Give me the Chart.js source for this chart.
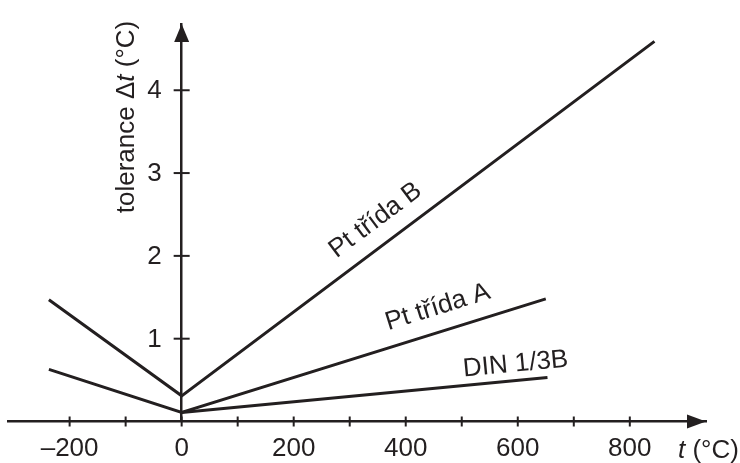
<!DOCTYPE html>
<html>
<head>
<meta charset="utf-8">
<script src="https://cdn.jsdelivr.net/npm/chart.js@4.4.1/dist/chart.umd.min.js"></script>
<style>
  body { margin: 0; background: #fff; }
</style>
</head>
<body>
<canvas id="graf" width="740" height="463"></canvas>
<script>
// hodnoty
const xTicks = [-200, -100, 0, 100, 200, 300, 400, 500, 600, 700, 800];
const yTicks = [1, 2, 3, 4];
const tempB = [-237, 0, 844];
const tolB = [1.47, 0.31, 4.59];
const tempA = [-237, 0, 650];
const tolA = [0.63, 0.11, 1.48];
const tempDin = [0, 653];
const tolDin = [0.11, 0.53];
const lineNames = ['Pt třída B', 'Pt třída A', 'DIN 1/3B'];

const ink = '#231f20';
const font = "'Liberation Sans', Arial, sans-serif";
Chart.defaults.font.family = font;
Chart.defaults.font.size = 26;
Chart.defaults.color = ink;

function body(xs, ys) {
    return xs.map((x, i) => ({ x: x, y: ys[i] }));
}

function serie(xs, ys) {
    return {
        data: body(xs, ys),
        borderColor: ink,
        borderWidth: 3,
        borderJoinStyle: 'miter',
        pointRadius: 0,
        tension: 0
    };
}

// kde stoji popisky car (t na care, odsazeni v px)
const popisky = [
    { t: 372, off: 17 },
    { t: 470, off: 17 },
    { t: 599, off: 9 }
];

const osy = {
    id: 'osy',
    afterDraw(chart) {
        const ctx = chart.ctx;
        const sx = chart.scales.x;
        const sy = chart.scales.y;
        const x0 = sx.getPixelForValue(0);
        const y0 = sy.getPixelForValue(0);
        const area = chart.chartArea;
        ctx.save();
        ctx.strokeStyle = ink;
        ctx.fillStyle = ink;
        ctx.lineWidth = 2;

        // carky na osach
        sx.ticks.forEach(tk => {
            const px = sx.getPixelForValue(tk.value);
            ctx.beginPath();
            ctx.moveTo(px, y0 - 5);
            ctx.lineTo(px, y0 + 5);
            ctx.stroke();
        });
        const normal = '26px ' + font;
        const italic = 'italic 26px ' + font;
        ctx.font = normal;
        ctx.textAlign = 'right';
        ctx.textBaseline = 'middle';
        sy.ticks.forEach(tk => {
            const py = sy.getPixelForValue(tk.value);
            ctx.beginPath();
            ctx.moveTo(x0 - 8, py);
            ctx.lineTo(x0 + 8, py);
            ctx.stroke();
            ctx.fillText(String(tk.value), x0 - 20, py + 1);
        });

        // sipky
        ctx.beginPath();
        ctx.moveTo(area.right, y0);
        ctx.lineTo(area.right - 19, y0 - 7);
        ctx.lineTo(area.right - 19, y0 + 7);
        ctx.closePath();
        ctx.fill();
        ctx.beginPath();
        ctx.moveTo(x0, area.top);
        ctx.lineTo(x0 - 7.5, area.top + 18);
        ctx.lineTo(x0 + 7.5, area.top + 18);
        ctx.closePath();
        ctx.fill();

        // popis osy x
        ctx.textAlign = 'left';
        ctx.textBaseline = 'alphabetic';
        let cx = 678;
        [['t', italic], [' (°C)', normal]].forEach(([s, f]) => {
            ctx.font = f;
            ctx.fillText(s, cx, 458);
            cx += ctx.measureText(s).width;
        });

        // popis osy y
        const casti = [['tolerance ', normal], ['Δ', normal], ['t', italic], [' (°C)', normal]];
        let celkem = 0;
        casti.forEach(([s, f]) => { ctx.font = f; celkem += ctx.measureText(s).width; });
        ctx.save();
        ctx.translate(127, 117);
        ctx.rotate(-Math.PI / 2);
        ctx.textBaseline = 'middle';
        let pos = -celkem / 2;
        casti.forEach(([s, f]) => {
            ctx.font = f;
            ctx.fillText(s, pos, 0);
            pos += ctx.measureText(s).width;
        });
        ctx.restore();

        // popisky car
        ctx.font = normal;
        ctx.textAlign = 'center';
        ctx.textBaseline = 'alphabetic';
        chart.data.datasets.forEach((ds, i) => {
            const p = popisky[i];
            const pts = ds.data;
            let k = 0;
            while (k < pts.length - 2 && pts[k + 1].x < p.t) k++;
            const a = pts[k], b = pts[k + 1];
            const ax = sx.getPixelForValue(a.x), ay = sy.getPixelForValue(a.y);
            const bx = sx.getPixelForValue(b.x), by = sy.getPixelForValue(b.y);
            const f = (p.t - a.x) / (b.x - a.x);
            const px = ax + (bx - ax) * f;
            const py = ay + (by - ay) * f;
            ctx.save();
            ctx.translate(px, py);
            ctx.rotate(Math.atan2(by - ay, bx - ax));
            ctx.fillText(lineNames[i], 0, -p.off);
            ctx.restore();
        });
        ctx.restore();
    }
};

function bezOkraju(scale) {
    scale.paddingLeft = 0;
    scale.paddingRight = 0;
    scale.paddingTop = 0;
    scale.paddingBottom = 0;
}

new Chart(document.getElementById('graf'), {
    type: 'line',
    data: {
        datasets: [
            serie(tempB, tolB),
            serie(tempA, tolA),
            serie(tempDin, tolDin)
        ]
    },
    options: {
        responsive: false,
        animation: false,
        layout: { padding: { left: 8, right: 34, top: 24, bottom: 41.5 } },
        plugins: { legend: { display: false }, tooltip: { enabled: false } },
        scales: {
            x: {
                type: 'linear',
                position: { y: 0 },
                min: -310,
                max: 936,
                afterBuildTicks: s => { s.ticks = xTicks.map(v => ({ value: v })); },
                afterFit: bezOkraju,
                grid: { display: false, drawTicks: false },
                border: { color: ink, width: 2.5 },
                ticks: {
                    padding: 12,
                    maxRotation: 0,
                    autoSkip: false,
                    callback: v => (v % 200 === 0 ? String(v).replace('-', '\u2013') : '')
                }
            },
            y: {
                type: 'linear',
                position: { x: 0 },
                min: 0,
                max: 4.8,
                afterBuildTicks: s => { s.ticks = yTicks.map(v => ({ value: v })); },
                afterFit: bezOkraju,
                grid: { display: false, drawTicks: false },
                border: { color: ink, width: 2.5 },
                ticks: { display: false }
            }
        }
    },
    plugins: [osy]
});
</script>
</body>
</html>
